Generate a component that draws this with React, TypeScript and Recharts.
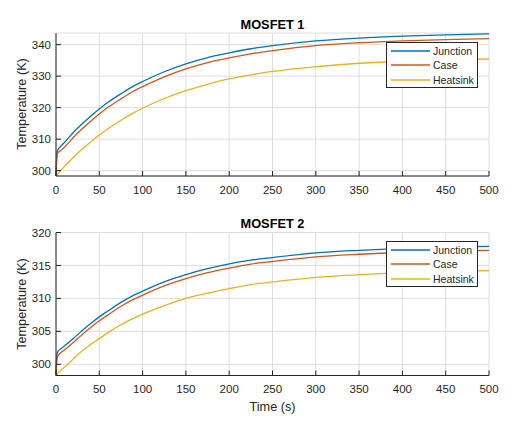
import React from "react";
import { CartesianGrid, Legend, Line, LineChart, XAxis, YAxis } from "recharts";

// time samples (s)
const time = [0, 1, 2, 5, 10, 20, 30, 40, 50, 60, 75, 90, 100, 125, 150, 175, 200, 225, 250, 300, 350, 400, 450, 500];

// MOSFET 1 temperatures (K)
const junction1 = [298.3, 305.2, 306.6, 307.6, 309.0, 312.1, 314.8, 317.3, 319.6, 321.7, 324.4, 326.9, 328.3, 331.4, 333.9, 335.9, 337.4, 338.7, 339.7, 341.2, 342.1, 342.7, 343.1, 343.4];
const case1 = [298.3, 304.4, 305.6, 306.3, 307.5, 310.5, 313.2, 315.7, 318.0, 320.1, 322.8, 325.3, 326.7, 329.8, 332.3, 334.3, 335.8, 337.1, 338.1, 339.7, 340.6, 341.2, 341.6, 341.9];
const heatsink1 = [298.3, 298.6, 298.9, 299.9, 301.4, 304.2, 306.8, 309.1, 311.3, 313.3, 316.0, 318.4, 319.8, 322.9, 325.4, 327.4, 329.1, 330.4, 331.5, 333.0, 334.1, 334.7, 335.2, 335.45];

// MOSFET 2 temperatures (K)
const junction2 = [298.3, 301.4, 301.9, 302.3, 302.8, 303.9, 305.1, 306.2, 307.2, 308.1, 309.4, 310.5, 311.1, 312.5, 313.6, 314.5, 315.25, 315.8, 316.2, 316.9, 317.3, 317.6, 317.8, 317.9];
const case2 = [298.3, 300.7, 301.2, 301.7, 302.2, 303.3, 304.5, 305.6, 306.6, 307.5, 308.8, 309.9, 310.5, 311.9, 313.0, 313.9, 314.6, 315.2, 315.6, 316.3, 316.7, 317.0, 317.2, 317.3];
const heatsink2 = [298.3, 298.4, 298.6, 299.0, 299.6, 300.8, 302.0, 303.0, 303.9, 304.8, 306.0, 307.0, 307.6, 308.9, 310.0, 310.8, 311.5, 312.1, 312.5, 313.2, 313.6, 313.9, 314.1, 314.2];

const xTicks = [0, 50, 100, 150, 200, 250, 300, 350, 400, 450, 500];
const yTicks1 = [300, 310, 320, 330, 340];
const yTicks2 = [300, 305, 310, 315, 320];

const seriesNames = ["Junction", "Case", "Heatsink"];
const colors = ["#0072BD", "#D95319", "#EDB120"];

const FONT = "'Liberation Sans', Arial, Helvetica, sans-serif";
const INK = "#262626";

const renderLegend = () => (
  <div
    style={{
      border: `1px solid ${INK}`,
      background: "#fff",
      width: 92,
      height: 46,
      boxSizing: "border-box",
      padding: "0.5px 4px",
      fontFamily: FONT,
      fontSize: 10.5,
      color: INK,
    }}
  >
    {seriesNames.map((n, i) => (
      <div key={n} style={{ display: "flex", alignItems: "center", height: 14.5 }}>
        <svg width={39} height={4} style={{ flex: "none" }}>
          <line x1={0} x2={39} y1={2} y2={2} stroke={colors[i]} strokeWidth={1.3} />
        </svg>
        <span style={{ marginLeft: 3, whiteSpace: "nowrap" }}>{n}</span>
      </div>
    ))}
  </div>
);

type PanelProps = {
  top: number;
  height: number;
  marginTop: number;
  marginBottom: number;
  tickMarginX: number;
  domain: [number, number];
  yTicks: number[];
  j: number[];
  c: number[];
  h: number[];
  legendTop: number;
};

function Panel({ top, height, marginTop, marginBottom, tickMarginX, domain, yTicks, j, c, h, legendTop }: PanelProps) {
  const data = time.map((t, i) => ({ t, j: j[i], c: c[i], h: h[i] }));
  const tickStyle = { fill: INK, fontSize: 11.5, fontFamily: FONT };
  return (
    <div style={{ position: "absolute", left: 0, top }}>
      <LineChart width={521} height={height} data={data} margin={{ top: marginTop, right: 32, bottom: marginBottom, left: 0 }}>
        <CartesianGrid stroke="#dedede" strokeWidth={1} />
        <XAxis
          dataKey="t"
          type="number"
          domain={[0, 500]}
          ticks={xTicks}
          height={20}
          tickSize={-5}
          tickMargin={tickMarginX}
          tick={tickStyle}
          stroke={INK}
          interval={0}
        />
        <XAxis xAxisId="top" orientation="top" type="number" domain={[0, 500]} ticks={xTicks} height={0} tickSize={-5} tick={false} stroke={INK} interval={0} />
        <YAxis
          type="number"
          domain={domain}
          allowDataOverflow
          ticks={yTicks}
          width={56}
          tickSize={-5}
          tickMargin={10}
          tick={tickStyle}
          stroke={INK}
          interval={0}
        />
        <YAxis yAxisId="right" orientation="right" type="number" domain={domain} allowDataOverflow ticks={yTicks} width={0} tickSize={-5} tick={false} stroke={INK} interval={0} />
        <Line type="monotone" dataKey="j" name="Junction" stroke={colors[0]} strokeWidth={1.3} dot={false} isAnimationActive={false} />
        <Line type="monotone" dataKey="c" name="Case" stroke={colors[1]} strokeWidth={1.3} dot={false} isAnimationActive={false} />
        <Line type="monotone" dataKey="h" name="Heatsink" stroke={colors[2]} strokeWidth={1.3} dot={false} isAnimationActive={false} />
        <Legend
          layout="vertical"
          align="center"
          verticalAlign="middle"
          content={renderLegend}
          wrapperStyle={{ left: 386, top: legendTop, width: 92, height: 46 }}
        />
      </LineChart>
    </div>
  );
}

const titleStyle: React.CSSProperties = {
  position: "absolute",
  width: 200,
  textAlign: "center",
  fontFamily: FONT,
  fontWeight: "bold",
  fontSize: 12.8,
  color: "#000",
  lineHeight: "14px",
};

const labelStyle: React.CSSProperties = {
  position: "absolute",
  width: 200,
  textAlign: "center",
  fontFamily: FONT,
  fontSize: 12.7,
  color: INK,
  lineHeight: "14px",
  whiteSpace: "nowrap",
};

export default function App() {
  return (
    <div style={{ position: "absolute", left: 0, top: 0, width: 521, height: 428, background: "#fff", overflow: "hidden" }}>
      <Panel top={0} height={210} marginTop={33} marginBottom={14} tickMarginX={15} domain={[298.3, 343.7]} yTicks={yTicks1} j={junction1} c={case1} h={heatsink1} legendTop={42} />
      <Panel top={200} height={228} marginTop={32.5} marginBottom={32.5} tickMarginX={14} domain={[298.3, 320]} yTicks={yTicks2} j={junction2} c={case2} h={heatsink2} legendTop={41} />
      <div style={{ ...titleStyle, left: 172.5, top: 18 }}>MOSFET 1</div>
      <div style={{ ...titleStyle, left: 172.5, top: 217 }}>MOSFET 2</div>
      <div style={{ ...labelStyle, left: 172.5, top: 400 }}>Time (s)</div>
      <div style={{ ...labelStyle, left: 22 - 100, top: 104 - 7, transform: "rotate(-90deg)" }}>Temperature (K)</div>
      <div style={{ ...labelStyle, left: 22 - 100, top: 304 - 7, transform: "rotate(-90deg)" }}>Temperature (K)</div>
    </div>
  );
}
